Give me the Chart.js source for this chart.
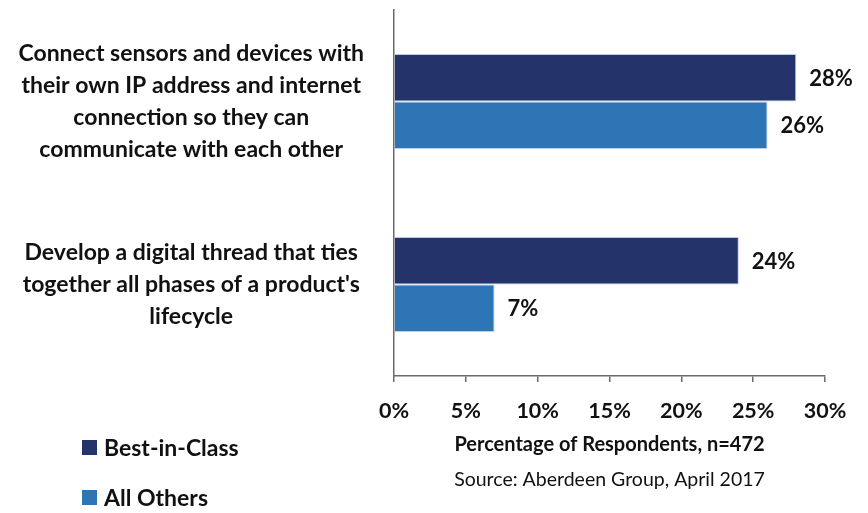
<!DOCTYPE html>
<html>
<head>
<meta charset="utf-8">
<script src="https://cdn.jsdelivr.net/npm/chart.js@4/dist/chart.umd.min.js"></script>
<style>
  html, body { margin:0; padding:0; background:#fff; }
  .wrap { position:relative; width:868px; height:513px; }
  canvas { display:block; }
  .legend { position:absolute; left:82px; top:430px; font-family:Lato, 'Open Sans', sans-serif; font-weight:700; font-size:23px; color:#111; }
  .legend div { display:flex; align-items:center; height:34px; margin-bottom:16px; }
  .legend span.sw { width:15px; height:15px; margin-right:7px; display:inline-block; }
</style>
</head>
<body>
<div class="wrap">
  <canvas id="chart" width="868" height="513"></canvas>
  <div class="legend" id="legend"></div>
</div>
<script>
const categories = [
  ['Connect sensors and devices with', 'their own IP address and internet', 'connection so they can', 'communicate with each other'],
  ['Develop a digital thread that ties', "together all phases of a product's", 'lifecycle']
];
const seriesNames = ['Best-in-Class', 'All Others'];
const bestInClass = [28, 24];
const allOthers = [26, 7];
const colors = ['#24346a', '#2e75b6'];
const xTicks = [0, 5, 10, 15, 20, 25, 30];
const axisTitle = 'Percentage of Respondents, n=472';
const sourceText = 'Source: Aberdeen Group, April 2017';

(function(){
  const fontFamily = "Lato, 'Open Sans', sans-serif";
  const axisGray = '#6b6b6b';

  // value labels at the end of each bar
  const barLabels = {
    id: 'barLabels',
    afterDatasetsDraw(chart){
      const c = chart.ctx;
      c.save();
      c.font = `700 22px ${fontFamily}`;
      c.fillStyle = '#111';
      c.textAlign = 'left';
      c.textBaseline = 'middle';
      chart.data.datasets.forEach((ds, i)=>{
        chart.getDatasetMeta(i).data.forEach((bar, j)=>{
          c.fillText(ds.data[j] + '%', bar.x + 13, bar.y + 1);
        });
      });
      c.restore();
    }
  };

  // source line under the axis title
  const sourceLine = {
    id: 'sourceLine',
    afterDraw(chart){
      const c = chart.ctx;
      const x = chart.scales.x;
      c.save();
      c.font = `400 19.5px ${fontFamily}`;
      c.fillStyle = '#111';
      c.textAlign = 'center';
      c.textBaseline = 'middle';
      c.fillText(sourceText, (x.left + x.right) / 2, x.bottom + 21);
      c.restore();
    }
  };

  new Chart(document.getElementById('chart'), {
    type: 'bar',
    data: {
      labels: categories,
      datasets: [
        { label: seriesNames[0], data: bestInClass, backgroundColor: colors[0], borderColor: 'rgba(160,180,215,0.7)', borderWidth: 1 },
        { label: seriesNames[1], data: allOthers, backgroundColor: colors[1], borderColor: 'rgba(160,190,225,0.7)', borderWidth: 1 }
      ]
    },
    options: {
      indexAxis: 'y',
      responsive: false,
      animation: false,
      datasets: { bar: { categoryPercentage: 0.52, barPercentage: 1 } },
      layout: { padding: { top: 10, right: 43, bottom: 54, left: 0 } },
      plugins: {
        legend: { display: false },
        tooltip: { enabled: false }
      },
      scales: {
        x: {
          min: 0, max: 30,
          afterBuildTicks: (s)=>{ s.ticks = xTicks.map(v => ({ value: v })); },
          afterFit: (s)=>{ s.height = 83; },
          grid: { drawOnChartArea: false, drawTicks: true, tickLength: 6, color: axisGray, lineWidth: 1.5 },
          border: { display: true, color: axisGray, width: 1.5 },
          ticks: {
            padding: 16,
            color: '#111',
            font: { family: fontFamily, size: 21.5, weight: '700' },
            callback: (v)=> v + '%'
          },
          title: {
            display: true,
            text: axisTitle,
            color: '#111',
            font: { family: fontFamily, size: 20, weight: '700' },
            padding: { top: 6, bottom: 2 }
          }
        },
        y: {
          afterFit: (s)=>{ s.width = 394; s.paddingTop = 0; s.paddingBottom = 0; },
          grid: { display: false },
          border: { display: true, color: axisGray, width: 1.5 },
          ticks: {
            crossAlign: 'center',
            padding: 22,
            color: '#111',
            font: { family: fontFamily, size: 23, weight: '700', lineHeight: 1.39 }
          }
        }
      }
    },
    plugins: [barLabels, sourceLine]
  });

  const legend = document.getElementById('legend');
  legend.innerHTML = seriesNames.map((n, i)=>
    `<div><span class="sw" style="background:${colors[i]}"></span>${n}</div>`).join('');
})();
</script>
</body>
</html>
